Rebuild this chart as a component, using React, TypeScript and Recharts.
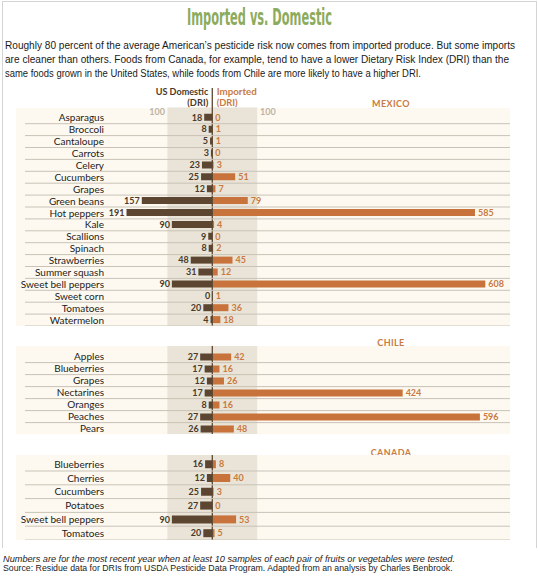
import { BarChart, Bar, XAxis, YAxis, ReferenceArea, ReferenceLine, LabelList } from "recharts";

const MEXICO_FOODS = [
  "Asparagus", "Broccoli", "Cantaloupe", "Carrots", "Celery", "Cucumbers",
  "Grapes", "Green beans", "Hot peppers", "Kale", "Scallions", "Spinach",
  "Strawberries", "Summer squash", "Sweet bell peppers", "Sweet corn", "Tomatoes", "Watermelon",
];
const MEXICO_US = [18, 8, 5, 3, 23, 25, 12, 157, 191, 90, 9, 8, 48, 31, 90, 0, 20, 4];
const MEXICO_IMPORTED = [0, 1, 1, 0, 3, 51, 7, 79, 585, 4, 0, 2, 45, 12, 608, 1, 36, 18];

const CHILE_FOODS = ["Apples", "Blueberries", "Grapes", "Nectarines", "Oranges", "Peaches", "Pears"];
const CHILE_US = [27, 17, 12, 17, 8, 27, 26];
const CHILE_IMPORTED = [42, 16, 26, 424, 16, 596, 48];

const CANADA_FOODS = ["Blueberries", "Cherries", "Cucumbers", "Potatoes", "Sweet bell peppers", "Tomatoes"];
const CANADA_US = [16, 12, 25, 27, 90, 20];
const CANADA_IMPORTED = [8, 40, 3, 0, 53, 5];

const BAND = 100;
const X_DOMAIN: [number, number] = [-236.7, 663];

const CREAM = "#fdf9f0";
const BAND_FILL = "#e9e4d7";
const ROW_LINE = "#c9c3b7";
const US_COLOR = "#5c4631";
const IMP_COLOR = "#c8733b";
const US_TEXT = "#4b3a28";
const IMP_TEXT = "#c97a40";
const TITLE_GREEN = "#8dab5c";
const FONT = "Lato, 'Open Sans', sans-serif";
const CHART_W = 494;

function renderUsLabel(p: any) {
  const left = Math.min(p.x, p.x + p.width);
  return (
    <text x={left - 2} y={p.y + p.height / 2} dy="0.36em" textAnchor="end"
      fontSize={9} fontWeight={700} fontFamily={FONT} fill={US_TEXT}>
      {p.value}
    </text>
  );
}

function renderImpLabel(p: any) {
  const right = Math.max(p.x, p.x + p.width);
  return (
    <text x={right + 3} y={p.y + p.height / 2} dy="0.36em" textAnchor="start"
      fontSize={9} fontWeight={700} fontFamily={FONT} fill={IMP_TEXT}>
      {p.value}
    </text>
  );
}

function renderHundred(p: any) {
  const { x, y, width } = p.viewBox;
  return (
    <g fontSize={9} fontWeight={700} fontFamily={FONT} fill="#bdb3a3">
      <text x={x - 2.4} y={y + 3.2} textAnchor="end">100</text>
      <text x={x + width + 2.8} y={y + 3.2} textAnchor="start">100</text>
    </g>
  );
}

function Section({
  foods, us, imported, lineTop, bgTop, plotTop, plotBottom, barSize, hundred,
}: {
  foods: string[]; us: number[]; imported: number[];
  lineTop: number; bgTop: number; plotTop: number; plotBottom: number;
  barSize: number; hundred?: boolean;
}) {
  const data = foods.map((food, i) => ({ food, us: -us[i], usValue: us[i], imp: imported[i] }));
  const height = plotBottom - lineTop;
  const row = (plotBottom - plotTop) / foods.length;
  const bgY = bgTop - lineTop;

  return (
    <>
      <div style={{ position: "absolute", left: 16, top: bgTop, width: CHART_W, height: plotBottom - bgTop, background: CREAM }} />
      <div style={{ position: "absolute", left: 16, top: lineTop }}>
        <BarChart
          width={CHART_W}
          height={height}
          data={data}
          layout="vertical"
          stackOffset="sign"
          barSize={barSize}
          margin={{ top: plotTop - lineTop, right: 0, bottom: 0, left: 0 }}
        >
          <XAxis type="number" hide domain={X_DOMAIN} allowDataOverflow />
          <YAxis
            type="category"
            dataKey="food"
            width={90}
            axisLine={false}
            tickLine={false}
            tickSize={0}
            tickMargin={2}
            interval={0}
            tick={(t: any) => (
              <g>
                <line x1={9} x2={CHART_W} y1={t.y + row / 2} y2={t.y + row / 2} stroke={ROW_LINE} strokeWidth={1} />
                <text x={t.x} y={t.y} dy="0.36em" textAnchor="end" fontSize={10} fontFamily={FONT} fill="#222">
                  {t.payload.value}
                </text>
              </g>
            )}
          />
          <ReferenceArea
            x1={-BAND}
            x2={BAND}
            fill={BAND_FILL}
            fillOpacity={1}
            stroke="none"
            shape={(p: any) => (
              <rect x={p.x} y={bgY} width={p.width} height={p.y + p.height - bgY} fill={BAND_FILL} />
            )}
            label={hundred ? renderHundred : undefined}
          />
          <Bar dataKey="us" stackId="a" fill={US_COLOR} minPointSize={0.01} isAnimationActive={false}>
            <LabelList dataKey="usValue" content={renderUsLabel} />
          </Bar>
          <Bar dataKey="imp" stackId="a" fill={IMP_COLOR} minPointSize={0.01} isAnimationActive={false}>
            <LabelList dataKey="imp" content={renderImpLabel} />
          </Bar>
          <ReferenceLine
            x={0}
            stroke={US_COLOR}
            strokeWidth={1.3}
            shape={(p: any) => (
              <line x1={p.x1} x2={p.x2} y1={0} y2={Math.max(p.y1, p.y2)} stroke={US_COLOR} strokeWidth={1.3} />
            )}
          />
        </BarChart>
      </div>
    </>
  );
}

export default function App() {
  return (
    <div style={{ position: "absolute", left: 0, top: 0, width: 538, height: 579, background: "#fff", overflow: "hidden" }}>
      <div style={{ position: "absolute", left: 2, top: 1, width: 533, height: 546, border: "1px solid #d4d4d4", borderBottom: "none" }} />
      <svg width={538} height={579} style={{ position: "absolute", left: 0, top: 0 }}>
        <text x={259.5} y={25} textAnchor="middle" fontSize={23} fontWeight={700}
          fontFamily="'Liberation Sans Narrow', 'DejaVu Sans Condensed', sans-serif"
          fill={TITLE_GREEN} textLength={145} lengthAdjust="spacingAndGlyphs">
          Imported vs. Domestic
        </text>
        <g fontSize={10} fontFamily="'Liberation Sans', Arial, sans-serif" fill="#1a1a1a">
          <text x={5} y={48.5} textLength={510} lengthAdjust="spacingAndGlyphs">
            Roughly 80 percent of the average American’s pesticide risk now comes from imported produce. But some imports
          </text>
          <text x={5} y={62.8} textLength={504} lengthAdjust="spacingAndGlyphs">
            are cleaner than others. Foods from Canada, for example, tend to have a lower Dietary Risk Index (DRI) than the
          </text>
          <text x={5} y={77.2} textLength={416} lengthAdjust="spacingAndGlyphs">
            same foods grown in the United States, while foods from Chile are more likely to have a higher DRI.
          </text>
        </g>
        <g fontSize={9.5} fontWeight={700} fontFamily={FONT}>
          <text x={208.3} y={95} textAnchor="end" fill={US_TEXT} textLength={52.6} lengthAdjust="spacingAndGlyphs">US Domestic</text>
          <text x={208.3} y={105.5} textAnchor="end" fill={US_TEXT} textLength={21} lengthAdjust="spacingAndGlyphs">(DRI)</text>
          <text x={216.7} y={95} fill={IMP_TEXT} textLength={40} lengthAdjust="spacingAndGlyphs">Imported</text>
          <text x={216.7} y={105.5} fill={IMP_TEXT} textLength={21} lengthAdjust="spacingAndGlyphs">(DRI)</text>
        </g>
        <g fontSize={9} fontWeight={700} fontFamily={FONT} fill={IMP_TEXT} textAnchor="middle" letterSpacing={0.4}>
          <text x={391} y={106.5}>MEXICO</text>
          <text x={391} y={345.9}>CHILE</text>
          <text x={391} y={455.9}>CANADA</text>
        </g>
        <g fontSize={8.8} fontFamily="'Liberation Sans', Arial, sans-serif" fill="#222">
          <text x={3} y={561.5} fontStyle="italic" textLength={452} lengthAdjust="spacingAndGlyphs">
            Numbers are for the most recent year when at least 10 samples of each pair of fruits or vegetables were tested.
          </text>
          <text x={3} y={571} textLength={449.6} lengthAdjust="spacingAndGlyphs">
            Source: Residue data for DRIs from USDA Pesticide Data Program. Adapted from an analysis by Charles Benbrook.
          </text>
        </g>
      </svg>
      <Section foods={MEXICO_FOODS} us={MEXICO_US} imported={MEXICO_IMPORTED}
        lineTop={88.3} bgTop={107.7} plotTop={112.1} plotBottom={326.3} barSize={7} hundred />
      <Section foods={CHILE_FOODS} us={CHILE_US} imported={CHILE_IMPORTED}
        lineTop={345.7} bgTop={345.7} plotTop={350.3} plotBottom={434.3} barSize={7} />
      <Section foods={CANADA_FOODS} us={CANADA_US} imported={CANADA_IMPORTED}
        lineTop={455} bgTop={455} plotTop={457.2} plotBottom={540} barSize={8} />
    </div>
  );
}
